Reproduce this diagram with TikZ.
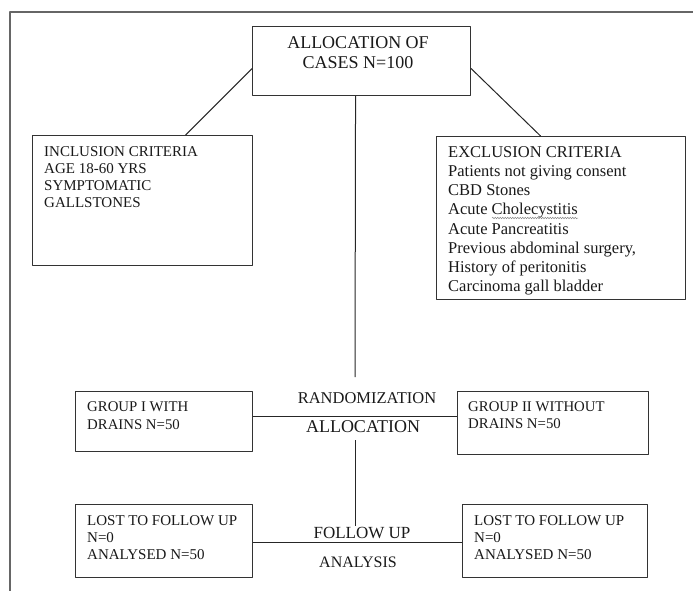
\documentclass[tikz,border=0pt]{standalone}
\usepackage{fontspec}
\setmainfont{Liberation Serif}
\usetikzlibrary{positioning,decorations.pathmorphing}
\begin{document}
\begin{tikzpicture}[x=1pt, y=-1pt, line join=round,
  box/.style={draw=black!80, line width=1.1pt, anchor=north west, inner sep=0pt},
  txt/.style={anchor=north west, inner sep=0pt, align=left, text=black!90},
  lbl/.style={inner sep=0pt, text=black!90},
  link/.style={black!85, line width=1pt}]
\useasboundingbox (0,0) rectangle (693,591);
\draw[black!60, line width=1.6pt] (10,591) -- (10,12) -- (693,12);
\node[box, minimum width=218pt, minimum height=69pt] (alloc) at (252,26) {};
\node[box, minimum width=220pt, minimum height=130pt] (incl) at (32,135) {};
\node[box, minimum width=249pt, minimum height=163pt] (excl) at (436,136) {};
\node[box, minimum width=177pt, minimum height=60pt] (grp1) at (75,391) {};
\node[box, minimum width=191pt, minimum height=63pt] (grp2) at (457,391) {};
\node[box, minimum width=177pt, minimum height=73pt] (lost1) at (75,504) {};
\node[box, minimum width=185pt, minimum height=73pt] (lost2) at (462,504) {};
\node[lbl, align=center, font=\fontsize{18}{20}\selectfont] (alloctext) at (358,53) {ALLOCATION OF\\CASES N=100};
\node[txt, font=\fontsize{15}{17}\selectfont] (incltext) at ([shift={(12,11)}]incl.north west)
  {INCLUSION CRITERIA\\AGE 18-60 YRS\\SYMPTOMATIC\\GALLSTONES};
\node[txt, font=\fontsize{16.5}{19.1}\selectfont] (excltext) at ([shift={(12,10.5)}]excl.north west)
  {EXCLUSION CRITERIA\\Patients not giving consent\\CBD Stones\\Acute Cholecystitis\\Acute Pancreatitis\\Previous abdominal surgery,\\History of peritonitis\\Carcinoma gall bladder};
\node[txt, font=\fontsize{14.8}{18}\selectfont] (grp1text) at ([shift={(12,10)}]grp1.north west) {GROUP I WITH\\DRAINS N=50};
\node[txt, font=\fontsize{14.8}{17.5}\selectfont] (grp2text) at ([shift={(11,10)}]grp2.north west) {GROUP II WITHOUT\\DRAINS N=50};
\node[txt, font=\fontsize{15}{17}\selectfont] (lost1text) at ([shift={(12,11)}]lost1.north west) {LOST TO FOLLOW UP\\N=0\\ANALYSED N=50};
\node[txt, font=\fontsize{15}{17}\selectfont] (lost2text) at ([shift={(12,11)}]lost2.north west) {LOST TO FOLLOW UP\\N=0\\ANALYSED N=50};
\node[lbl, font=\fontsize{16.5}{19}\selectfont] (rand) at (367,398) {RANDOMIZATION};
\node[lbl, font=\fontsize{18}{20}\selectfont] (allocl) at (363,427) {ALLOCATION};
\node[lbl, font=\fontsize{17}{20}\selectfont] (follow) at (362,533) {FOLLOW UP};
\node[lbl, font=\fontsize{16}{19}\selectfont] (analysis) at (358,562) {ANALYSIS};
\coordinate (v1) at (355,377);
\coordinate (v2) at (355,440);
\coordinate (v3) at (355,526);
\draw[link] ([yshift=-7.5pt]alloc.west) -- ([xshift=43pt]incl.north);
\draw[link] ([yshift=-7.5pt]alloc.east) -- ([xshift=-20.5pt]excl.north);
\draw[link] ([xshift=-6pt]alloc.south) -- (v1);
\draw[link] (v2) -- (v3);
\draw[link] ([yshift=5pt]grp1.east) coordinate (g) -- (g -| grp2.west);
\draw[link] ([yshift=-1.5pt]lost1.east) coordinate (l) -- (l -| lost2.west);
\draw[black!45, line width=0.5pt, decorate, decoration={snake, amplitude=0.8pt, segment length=2.5pt}] (492,218) -- (578,218);
\end{tikzpicture}
\end{document}
